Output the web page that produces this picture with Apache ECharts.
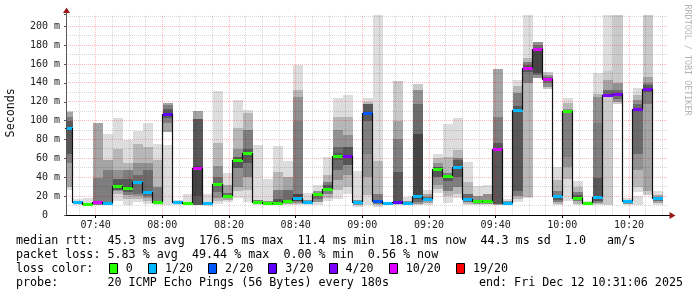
<!DOCTYPE html>
<html><head><meta charset="utf-8">
<script src="https://cdn.jsdelivr.net/npm/echarts@6/dist/echarts.min.js"></script>
<style>html,body{margin:0;padding:0;background:#fff}#c{width:697px;height:297px}</style>
</head><body><div id="c"></div>
<script>
// ---- data ----
const startLabel = '07:31:06';
const endLabel = '10:31:06';
const firstEnd = '07:33';
const stepMin = 3;
const xTickLabels = ['07:40','08:00','08:20','08:40','09:00','09:20','09:40','10:00','10:20'];
const yTickValues = [0,20,40,60,80,100,120,140,160,180,200];
const yMax = 212.5;

const medians = [91.7,14,11.6,13.4,13,31,29,35,24.7,14,
  107,14,12.3,49.4,12.3,32.4,20.1,57.8,66,13.4,
  13,13,14.8,18.3,13.4,22.6,27.8,62.8,63,13.4,
  108,14.8,12.3,14,13,20.4,17.3,48.7,41.3,51,
  17,14.8,14.8,69.8,13,111.8,156.2,175.6,144.6,19.7,
  110,18.3,12.3,18.7,127.7,128,14.8,112.8,134,18.1];
const losses = [1,1,0,10,1,0,0,1,1,0,
  3,1,0,10,1,0,0,0,0,0,
  0,0,0,1,1,0,0,0,4,1,
  2,2,1,3,1,1,1,0,0,1,
  1,0,0,10,1,1,10,10,10,1,
  0,0,0,1,4,4,1,4,4,1];
// smoke bands per interval: [layer, low, high] (layer 1 = outermost pings pair, 10 = innermost)
const smoke = [
  [[1,26,110],[4,30,109],[6,55,104],[8,65,100]],
  [[1,11,17],[5,12,15]],
  [[1,10.5,18],[5,11,13]],
  [[4,11,97],[6,11,39]],
  [[1,12,86],[4,12,58],[6,12,48]],
  [[1,15,103],[3,22,70],[5,25,48],[8,27,38]],
  [[1,11,79],[3,17,55],[6,21,48],[8,24,38]],
  [[1,14,89],[3,17,75],[5,20,55],[7,22,42]],
  [[1,12,98],[3,15,72],[5,18,55],[7,20,48]],
  [[1,10.6,75],[3,12,58],[6,13,30]],
  [[1,11,74],[4,88,119],[6,97,117],[8,103,112]],
  [[1,11,16]],
  [[1,10.5,22],[5,11,14]],
  [[4,11,110],[8,11,102],[9,20,52]],
  [[1,10,22]],
  [[1,12,131],[3,15,76],[5,18,52],[7,24,40]],
  [[1,14,45],[4,16,32],[7,18,23]],
  [[1,17.6,122],[3,25,92],[5,30,70],[8,50,62]],
  [[1,14,111],[3,26,108],[6,40,90],[8,55,70]],
  [[1,11,74],[6,12,16]],
  [[1,10.5,38],[5,11,15]],
  [[1,11,73],[3,12,46],[6,13,26],[8,13,17]],
  [[1,11,57],[4,12,40],[7,13,26]],
  [[1,11,159],[3,12,132],[5,13,125],[6,14,100],[9,15,22]],
  [[1,10.5,23.6],[5,11.5,16]],
  [[1,11,31.7],[5,14,25],[7,17,23]],
  [[1,15,62],[3,18,42],[6,22,35],[8,25,32]],
  [[1,17,124.5],[3,26,104],[5,37,90],[7,48,72],[8,58,66]],
  [[1,22,127],[3,30,104],[5,42,85],[8,53,72]],
  [[1,9,46.6],[5,11,16]],
  [[1,10.6,124.5],[3,21,120],[5,40,115],[6,65,112],[8,100,118]],
  [[1,9,212],[3,11,57],[6,12,22]],
  [[1,10.5,14]],
  [[2,11,142],[4,12,100],[6,13,81],[8,14,46]],
  [[1,10.6,18.7],[5,11,15]],
  [[2,11,139],[5,12,132],[7,14,118],[9,17,86]],
  [[1,11,26.5],[4,13,22],[7,15,19]],
  [[1,23.6,64.5],[3,28,60],[5,32,55],[8,40,51]],
  [[1,13,96],[3,20,62],[6,25,45],[8,36,42]],
  [[1,17.6,103],[3,22,69],[6,30,60],[8,40,58]],
  [[1,10.6,56],[3,12,35],[7,14,22]],
  [[1,10.6,30.7],[5,12,20],[7,13,16]],
  [[1,10.6,31.7],[5,12,22],[7,13,16]],
  [[4,11,155],[6,12,104],[8,12,76]],
  [[1,10.6,17],[5,11.5,15]],
  [[1,14,143.5],[3,17,137],[6,20,129],[8,25,115]],
  [[1,18,212],[3,19,166],[6,140,162],[8,152,159]],
  [[5,145,183],[7,148,180],[9,150,175]],
  [[2,134,152],[5,136,148],[7,140,146]],
  [[1,10.6,51],[3,12,37],[6,14,25],[8,16,21]],
  [[1,15,124],[3,38,119],[5,51,112],[6,62,108]],
  [[1,10.6,36],[3,12,30],[6,15,24],[8,17,21]],
  [[1,10.6,15]],
  [[1,11,150.6],[3,12,128.7],[5,13,125],[6,14,97],[8,15,39]],
  [[1,10.6,212],[2,10.6,153],[4,125,143],[7,126,133]],
  [[2,118,212],[5,120,140],[7,123,133]],
  [[1,10.6,18],[5,12,16]],
  [[1,10.6,20],[1,24,135],[3,30,127],[5,48,122],[7,65,118]],
  [[2,21,212],[4,25,146],[6,118,140],[8,130,138]],
  [[1,10.6,25.6],[4,13,21],[7,15,19]]
];
const lossLevels = [0,1,2,3,4,10,19];
const lossLabels = ['0','1/20','2/20','3/20','4/20','10/20','19/20'];
const lossColors = ['#26ff00','#00b8ff','#0059ff','#5e00ff','#7e00ff','#dd00ff','#ff0000'];
const rttStats = 'median rtt:  45.3 ms avg  176.5 ms max  11.4 ms min  18.1 ms now  44.3 ms sd  1.0   am/s';
const lossStats = 'packet loss: 5.83 % avg  49.44 % max  0.00 % min  0.56 % now';
const probeText = 'probe:       20 ICMP Echo Pings (56 Bytes) every 180s';
const endText = 'end: Fri Dec 12 10:31:06 2025';

// ---- helpers ----
const toMin = s => { const p = s.split(':').map(Number); return p[0]*60 + p[1] + (p[2]||0)/60; };
const xMin = toMin(startLabel), xMax = toMin(endLabel);
const firstEndMin = toMin(firstEnd);
const xTicks = xTickLabels.map(toMin);
const fmtTime = m => { const h = Math.floor(m/60), mm = Math.round(m - h*60); return String(h).padStart(2,'0') + ':' + String(mm).padStart(2,'0'); };
const gray = layer => { const c = Math.floor(190/10*(10-layer)) + 50; const h = c.toString(16).padStart(2,'0'); return '#' + h + h + h; };
const lossColor = l => { let idx = 0; lossLevels.forEach((lv, k) => { if (l >= lv) idx = k; }); return lossColors[idx]; };

const cols = medians.map((m, i) => {
  const end = firstEndMin + stepMin*i;
  const start = Math.max(end - stepMin, xMin);
  return [start, end, m, i > 0 ? medians[i-1] : NaN, losses[i], i];
});

// grid lines (5 min / 20 min, 10 ms / 20 ms)
const gridItems = [];
for (let t = Math.ceil(xMin/5)*5; t < xMax; t += 5) gridItems.push([0, t, (t % 20 === 0) ? 1 : 0]);
for (let v = 10; v < yMax; v += 10) gridItems.push([1, v, (v % 20 === 0) ? 1 : 0]);

const FONT_MONO = '"DejaVu Sans Mono", monospace';
const chart = echarts.init(document.getElementById('c'), null, {renderer: 'canvas', devicePixelRatio: 1});

const option = {
  animation: false,
  backgroundColor: '#ffffff',
  grid: {left: 66, right: 31, top: 14.5, bottom: 82, containLabel: false},
  xAxis: {
    type: 'value', min: xMin, max: xMax, z: 5,
    axisLine: {show: true, lineStyle: {color: '#000', width: 1}},
    axisTick: {show: true, customValues: xTicks, length: 3, inside: false, lineStyle: {color: '#000'}},
    axisLabel: {show: true, customValues: xTicks, formatter: v => fmtTime(v), margin: 5,
      fontFamily: FONT_MONO, fontSize: 10, color: '#222'},
    splitLine: {show: false}
  },
  yAxis: {
    type: 'value', min: 0, max: yMax, interval: 20, z: 5,
    axisLine: {show: true, lineStyle: {color: '#555', width: 1}},
    axisTick: {show: true, length: 2, lineStyle: {color: '#555'}},
    axisLabel: {show: true, margin: 6, fontFamily: FONT_MONO, fontSize: 10, color: '#222',
      formatter: v => (v === 0 ? '0  ' : (yTickValues.indexOf(v) >= 0 ? v + ' m' : ''))},
    splitLine: {show: false}
  },
  series: [
    {
      type: 'custom', name: 'smoke', z: 1, clip: true,
      data: cols.map(c => [c[0], c[1], c[5]]),
      encode: {x: [0, 1], y: []},
      renderItem: (params, api) => {
        const s = api.value(0), e = api.value(1), i = api.value(2);
        const bands = smoke[i].slice().sort((a, b) => a[0] - b[0]);
        const children = bands.map(b => {
          const p1 = api.coord([s, b[2]]), p2 = api.coord([e, b[1]]);
          const x0 = Math.ceil(p1[0]), x1 = Math.ceil(p2[0]);
          const y0 = Math.round(p1[1]), y1 = Math.round(p2[1]);
          return {type: 'rect', shape: {x: x0, y: y0, width: x1 - x0, height: y1 - y0}, style: {fill: gray(b[0])}};
        });
        return {type: 'group', children};
      }
    },
    {
      type: 'custom', name: 'grid', z: 2, silent: true,
      data: gridItems,
      renderItem: (params, api) => {
        const dir = api.value(0), v = api.value(1), major = api.value(2);
        const color = major ? 'rgba(255,0,0,0.28)' : 'rgba(0,0,0,0.16)';
        let shape;
        if (dir === 0) {
          const a = api.coord([v, 0]), b = api.coord([v, yMax]);
          const x = Math.floor(a[0]) + 0.5;
          shape = {x1: x, y1: a[1], x2: x, y2: b[1]};
        } else {
          const a = api.coord([xMin, v]), b = api.coord([xMax, v]);
          const y = Math.floor(a[1]) + 0.5;
          shape = {x1: a[0], y1: y, x2: b[0] + 2, y2: y};
        }
        return {type: 'line', shape, style: {stroke: color, lineWidth: 1, lineDash: [1, 1]}};
      }
    },
    {
      type: 'custom', name: 'median', z: 3,
      data: cols,
      encode: {x: [0, 1], y: 2},
      renderItem: (params, api) => {
        const s = api.value(0), e = api.value(1), m = api.value(2), pm = api.value(3), l = api.value(4);
        const p1 = api.coord([s, m]), p2 = api.coord([e, m]);
        const x0 = Math.ceil(p1[0]), x1 = Math.ceil(p2[0]);
        const y = Math.round(p1[1]);
        const children = [];
        if (!isNaN(pm)) {
          const pp = api.coord([s, pm]);
          const py = Math.round(pp[1]);
          children.push({type: 'line', shape: {x1: x0 - 0.5, y1: py, x2: x0 - 0.5, y2: y}, style: {stroke: '#111', lineWidth: 1.2}});
        }
        children.push({type: 'line', shape: {x1: x0 - 1, y1: y + 0.5, x2: x1, y2: y + 0.5}, style: {stroke: '#111', lineWidth: 1}});
        children.push({type: 'rect', shape: {x: x0, y: y - 1, width: x1 - x0, height: 3}, style: {fill: lossColor(l)}});
        return {type: 'group', children};
      }
    }
  ]
};
chart.setOption(option);

// decorations: arrows, titles, legend
const tl = chart.convertToPixel({gridIndex: 0}, [xMin, yMax]);
const br = chart.convertToPixel({gridIndex: 0}, [xMax, 0]);
const AX = tl[0], TOP = tl[1], RIGHT = br[0], BOT = br[1];
const LEG_FONT = '11.7px "DejaVu Sans Mono", monospace';
const cw = 7.04, lx = 16;
const rowY = [241, 255, 269, 283];
const g = [
  {type: 'line', shape: {x1: RIGHT, y1: BOT + 0.5, x2: RIGHT + 4, y2: BOT + 0.5}, style: {stroke: '#000', lineWidth: 1}, z: 10},
  {type: 'line', shape: {x1: AX + 0.5, y1: TOP, x2: AX + 0.5, y2: TOP - 3}, style: {stroke: '#555', lineWidth: 1}, z: 10},
  {type: 'polygon', shape: {points: [[AX + 0.5, TOP - 7], [AX - 3, TOP - 1.5], [AX + 4, TOP - 1.5]]}, style: {fill: '#9a1a1a'}, z: 11},
  {type: 'polygon', shape: {points: [[RIGHT + 9.5, BOT + 0.5], [RIGHT + 3.5, BOT - 3], [RIGHT + 3.5, BOT + 4]]}, style: {fill: '#9a1a1a'}, z: 11},
  {type: 'text', x: 11, y: (TOP + BOT) / 2 - 2, rotation: Math.PI / 2,
    style: {text: 'Seconds', font: LEG_FONT, fill: '#111', align: 'center', verticalAlign: 'middle'}, z: 10},
  {type: 'text', x: 687, y: 60, rotation: -Math.PI / 2,
    style: {text: 'RRDTOOL / TOBI OETIKER', font: '8.4px "DejaVu Sans Mono", monospace', fill: '#b4b4b4', align: 'center', verticalAlign: 'middle'}, z: 10},
  {type: 'text', x: lx, y: rowY[0], style: {text: rttStats, font: LEG_FONT, fill: '#000', verticalAlign: 'middle'}, z: 10},
  {type: 'text', x: lx, y: rowY[1], style: {text: lossStats, font: LEG_FONT, fill: '#000', verticalAlign: 'middle'}, z: 10},
  {type: 'text', x: lx, y: rowY[2], style: {text: 'loss color:', font: LEG_FONT, fill: '#000', verticalAlign: 'middle'}, z: 10},
  {type: 'text', x: lx, y: rowY[3], style: {text: probeText, font: LEG_FONT, fill: '#000', verticalAlign: 'middle'}, z: 10},
  {type: 'text', x: 683, y: rowY[3], style: {text: endText, font: LEG_FONT, fill: '#000', align: 'right', verticalAlign: 'middle'}, z: 10}
];
let cur = 13.2;
lossLabels.forEach((lab, k) => {
  const bx = Math.round(lx + cur * cw);
  g.push({type: 'rect', shape: {x: bx + 0.5, y: rowY[2] - 5.5, width: 8, height: 10}, style: {fill: lossColors[k], stroke: '#000', lineWidth: 1}, z: 10});
  g.push({type: 'text', x: lx + (cur + 2.4) * cw, y: rowY[2], style: {text: lab, font: LEG_FONT, fill: '#000', verticalAlign: 'middle'}, z: 10});
  cur += 2.4 + lab.length + 2.15;
});
chart.setOption({graphic: g});
</script>
</body></html>
